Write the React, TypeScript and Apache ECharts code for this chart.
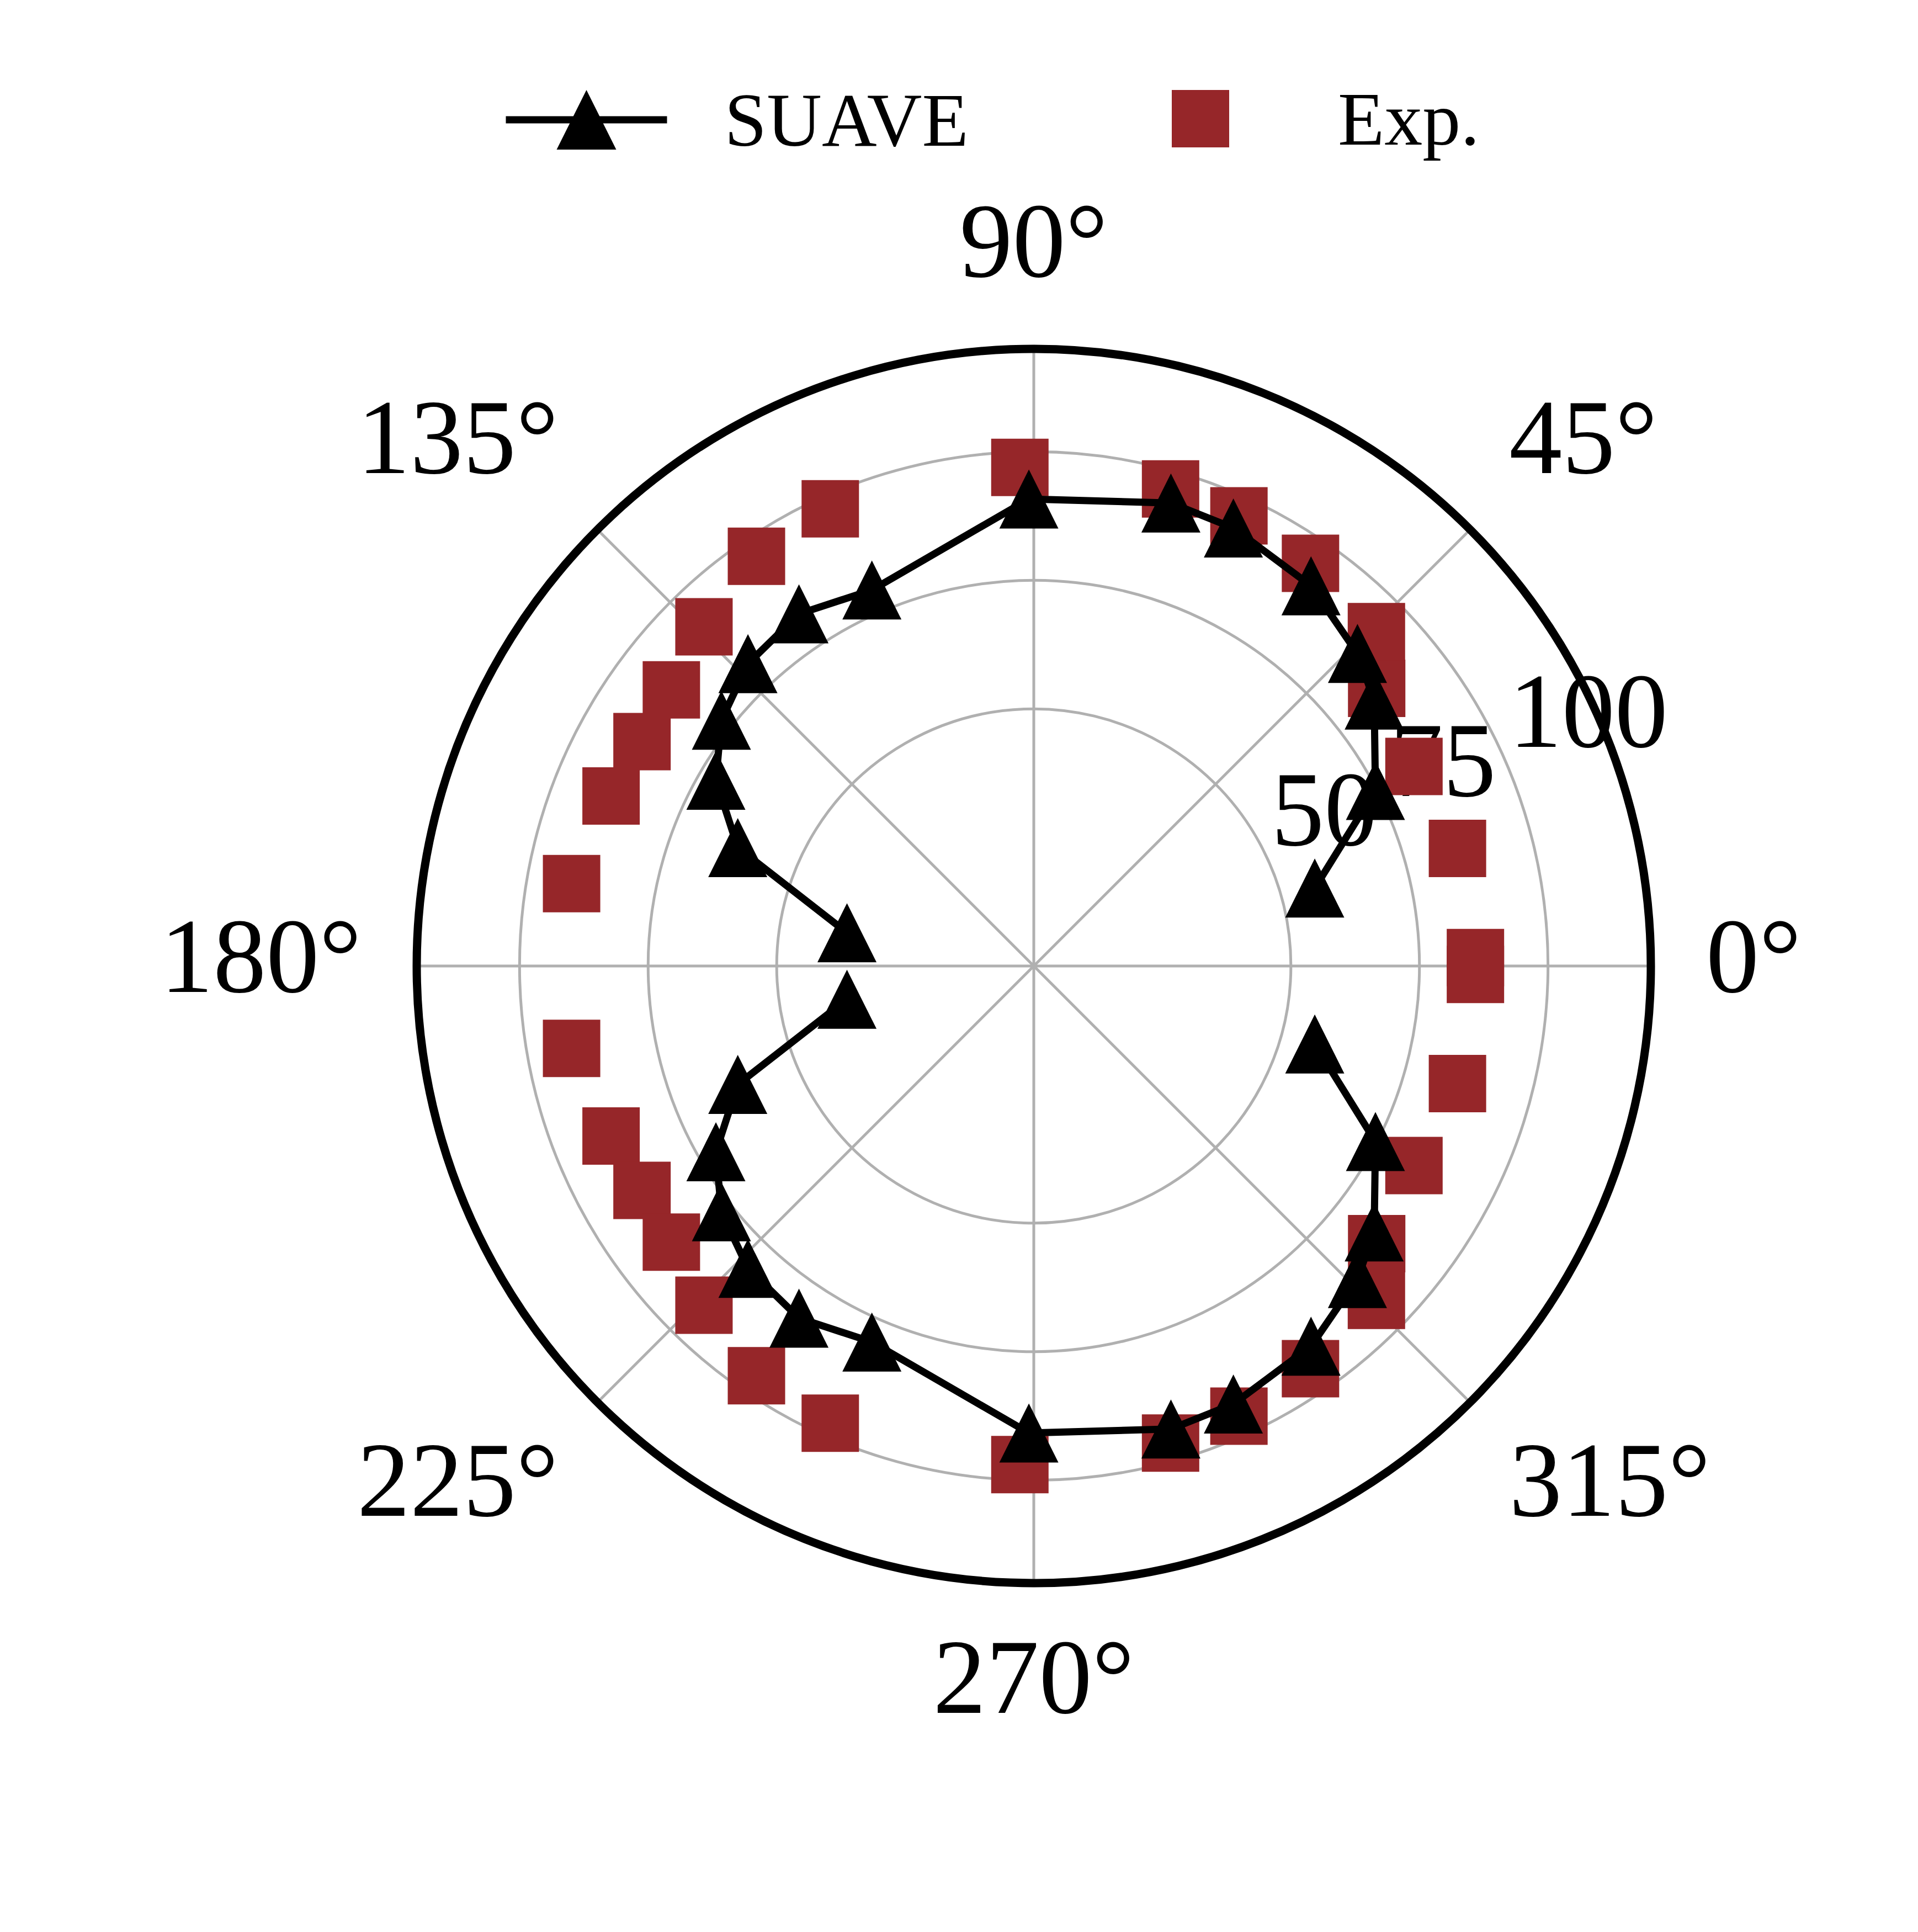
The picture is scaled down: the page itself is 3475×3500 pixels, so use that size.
import React, { useEffect, useRef } from 'react';
import * as echarts from 'echarts';

// ---- data (angle in degrees, value in %) ----
const EXP_ANGLES = [1.1, 15.5, 27.7, 39.0, 44.3, 55.5, 65.5, 74.0, 91.6, 114.0, 124.1, 134.2, 142.7, 150.2, 158.1, 169.9,
  190.1, 201.9, 209.8, 217.3, 225.8, 235.9, 246.0, 268.4, 286.0, 294.5, 304.5, 315.7, 321.0, 332.3, 344.5, 358.9];
const EXP_VALUES = [85.9, 85.5, 83.5, 85.8, 93.1, 95.0, 96.2, 96.5, 97.0, 97.3, 96.2, 92.0, 88.6, 87.8, 88.6, 91.3,
  91.3, 88.6, 87.8, 88.6, 92.0, 96.2, 97.3, 97.0, 96.5, 96.2, 95.0, 93.1, 85.8, 83.5, 85.5, 85.9];

const SUAVE_UPPER_ANGLES = [15.5, 27.2, 38.0, 44.0, 53.9, 65.5, 73.5, 90.6, 113.3, 123.7, 133.4, 141.8, 149.7, 158.2, 169.9];
const SUAVE_UPPER_VALUES = [56.7, 74.7, 84.0, 87.5, 91.5, 93.6, 93.9, 90.8, 79.6, 82.3, 80.9, 77.3, 71.6, 62.0, 36.9];
const SUAVE_LOWER_ANGLES = [190.1, 201.8, 210.3, 218.2, 226.6, 236.3, 246.7, 269.4, 286.5, 294.5, 306.1, 316.0, 322.0, 332.8, 344.5];
const SUAVE_LOWER_VALUES = [36.9, 62.0, 71.6, 77.3, 80.9, 82.3, 79.6, 90.8, 93.9, 93.6, 91.5, 87.5, 84.0, 74.7, 56.7];

const RADIUS_TICK_LABELS = [50, 75, 100];
const LOW_ANGLE_LABELS = [225, 270, 315];
const MID_ANGLE_LABELS = [0, 180];

const FONT = 'Liberation Serif';
const EXP_COLOR = '#962629';
const GRID_COLOR = '#b0b0b0';
const CX = 1873;
const CY = 1750;
const R = 1118;

export default function App() {
  const ref = useRef<HTMLDivElement>(null);

  useEffect(() => {
    const chart = echarts.init(ref.current as HTMLDivElement, null, { renderer: 'svg' });

    const expData = EXP_VALUES.map((v, i) => [v, EXP_ANGLES[i]]);
    const upperData = SUAVE_UPPER_VALUES.map((v, i) => [v, SUAVE_UPPER_ANGLES[i]]);
    const lowerData = SUAVE_LOWER_VALUES.map((v, i) => [v, SUAVE_LOWER_ANGLES[i]]);

    const suaveCommon = {
      name: 'SUAVE',
      type: 'line',
      coordinateSystem: 'polar',
      polarIndex: 0,
      symbol: 'triangle',
      symbolSize: 107,
      showSymbol: true,
      lineStyle: { color: '#000000', width: 13 },
      itemStyle: { color: '#000000', opacity: 1 },
      z: 3,
    };

    const option: any = {
      animation: false,
      backgroundColor: '#ffffff',
      legend: [
        {
          data: ['SUAVE'],
          left: 910,
          top: 148,
          padding: 0,
          itemWidth: 292,
          itemHeight: 135,
          lineStyle: { width: 13, color: '#000000' },
          textStyle: { fontFamily: FONT, fontSize: 138, color: '#000000', padding: [0, 0, 0, 99] },
        },
        {
          data: [{ name: 'Exp.', icon: 'rect' }],
          left: 2123,
          top: 146,
          padding: 0,
          itemWidth: 104,
          itemHeight: 104,
          textStyle: { fontFamily: FONT, fontSize: 138, color: '#000000', padding: [0, 0, 0, 192] },
        },
      ],
      polar: [
        { center: [CX, CY], radius: R },
        { center: [CX, CY], radius: R },
      ],
      angleAxis: [
        {
          polarIndex: 0,
          type: 'value',
          min: 0,
          max: 360,
          interval: 45,
          startAngle: 0,
          clockwise: false,
          axisLine: { show: true, lineStyle: { color: '#000000', width: 15 } },
          axisTick: { show: false },
          splitLine: { show: true, lineStyle: { color: GRID_COLOR, width: 5 } },
          axisLabel: {
            show: true,
            margin: 100,
            fontFamily: FONT,
            fontSize: 192,
            color: '#000000',
            formatter: (v: number) => {
              if (v >= 360) return '';
              if (LOW_ANGLE_LABELS.includes(v)) return '{low|' + v + '°}';
              if (MID_ANGLE_LABELS.includes(v)) return '{mid|' + v + '°}';
              return v + '°';
            },
            rich: {
              low: { fontFamily: FONT, fontSize: 192, color: '#000000', lineHeight: 140 },
              mid: { fontFamily: FONT, fontSize: 192, color: '#000000', padding: [0, 0, 36, 0] },
            },
          },
        },
        {
          polarIndex: 1,
          type: 'value',
          min: 0,
          max: 360,
          startAngle: 22.5,
          clockwise: false,
          show: false,
        },
      ],
      radiusAxis: [
        {
          polarIndex: 0,
          type: 'value',
          min: 0,
          max: 120,
          interval: 25,
          axisLine: { show: false },
          axisTick: { show: false },
          axisLabel: { show: false },
          splitLine: {
            show: true,
            lineStyle: {
              color: ['rgba(0,0,0,0)', 'rgba(0,0,0,0)', GRID_COLOR, GRID_COLOR, GRID_COLOR, 'rgba(0,0,0,0)'],
              width: 5,
            },
          },
        },
        {
          polarIndex: 1,
          type: 'value',
          min: 0,
          max: 120,
          interval: 25,
          axisLine: { show: false },
          axisTick: { show: false },
          splitLine: { show: false },
          axisLabel: {
            show: true,
            margin: 0,
            rotate: 0,
            align: 'left',
            verticalAlign: 'bottom',
            lineHeight: 210,
            fontFamily: FONT,
            fontSize: 192,
            color: '#000000',
            formatter: (v: number) => (RADIUS_TICK_LABELS.includes(v) ? String(v) : ''),
          },
        },
      ],
      series: [
        {
          name: 'Exp.',
          type: 'scatter',
          coordinateSystem: 'polar',
          polarIndex: 0,
          symbol: 'rect',
          symbolSize: 104,
          itemStyle: { color: EXP_COLOR, opacity: 1 },
          data: expData,
          z: 2,
        },
        { ...suaveCommon, data: upperData },
        { ...suaveCommon, data: lowerData },
      ],
    };

    chart.setOption(option);
    return () => {
      chart.dispose();
    };
  }, []);

  return (
    <div
      ref={ref}
      style={{ position: 'absolute', left: 0, top: 0, width: 3475, height: 3500, background: '#ffffff' }}
    />
  );
}
